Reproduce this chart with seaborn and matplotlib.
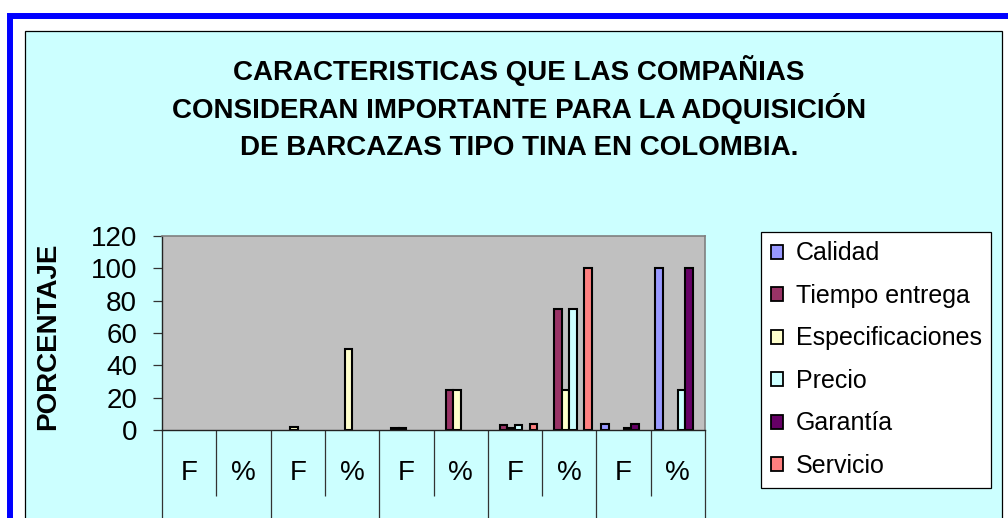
import matplotlib
matplotlib.use("Agg")
import matplotlib.pyplot as plt
from matplotlib.patches import Rectangle
import seaborn as sns
import pandas as pd
import numpy as np

# ---- data ----
cat_labels = ["F", "%", "F", "%", "F", "%", "F", "%", "F", "%"]
series = ["Calidad", "Tiempo entrega", "Especificaciones", "Precio", "Garantía", "Servicio"]
calidad = [0, 0, 0, 0, 0, 0, 0, 0, 4, 100]
tiempo_entrega = [0, 0, 0, 0, 1, 25, 3, 75, 0, 0]
especificaciones = [0, 0, 2, 50, 1, 25, 1, 25, 0, 0]
precio = [0, 0, 0, 0, 0, 0, 3, 75, 1, 25]
garantia = [0, 0, 0, 0, 0, 0, 0, 0, 4, 100]
servicio = [0, 0, 0, 0, 0, 0, 4, 100, 0, 0]
colors = ["#9999FF", "#993366", "#FFFFCC", "#CCFFFF", "#660066", "#FF8080"]
title_lines = ["CARACTERISTICAS QUE LAS COMPAÑIAS",
               "CONSIDERAN IMPORTANTE PARA LA ADQUISICIÓN",
               "DE BARCAZAS TIPO TINA EN COLOMBIA."]
y_ticks = [0, 20, 40, 60, 80, 100, 120]

cat_keys = [f"c{i}" for i in range(len(cat_labels))]
values = [calidad, tiempo_entrega, especificaciones, precio, garantia, servicio]
rows = []
for s, vals in zip(series, values):
    for k, v in zip(cat_keys, vals):
        rows.append({"cat": k, "serie": s, "valor": v})
df = pd.DataFrame(rows)
df_plot = df[df["valor"] > 0]

sns.set_style("white")
plt.rcParams["font.family"] = ["Liberation Sans", "DejaVu Sans"]
plt.rcParams["text.color"] = "black"
plt.rcParams["xtick.color"] = "black"
plt.rcParams["ytick.color"] = "black"
plt.rcParams["axes.labelcolor"] = "black"

W, H = 1008, 518
fig = plt.figure(figsize=(W / 100, H / 100), dpi=100, facecolor="white")

# frames
fig.patches.append(Rectangle((10.3 / W, -0.2), 1.3, 0.2 + 1 - 16 / H, transform=fig.transFigure,
                             facecolor="none", edgecolor="#0000FF", linewidth=4.3, zorder=-2))
fig.patches.append(Rectangle((25 / W, -0.2), (1001.5 - 25) / W, 0.2 + 1 - 30.5 / H, transform=fig.transFigure,
                             facecolor="#CCFFFF", edgecolor="black", linewidth=0.9, zorder=-1))

ax = fig.add_axes([162 / W, 1 - 430 / H, (705 - 162) / W, (430 - 236) / H])
ax.set_zorder(2)
ax.set_facecolor("#C0C0C0")

sns.barplot(data=df_plot, x="cat", y="valor", hue="serie", order=cat_keys, hue_order=series,
            palette=colors, saturation=1, width=0.83, edgecolor="black", linewidth=1.5,
            errorbar=None, ax=ax)

ax.set_xlim(-0.5, len(cat_keys) - 0.5)
ax.set_ylim(0, 120)
ax.set_yticks(y_ticks)
ax.set_yticklabels([str(t) for t in y_ticks], fontsize=20)
ax.set_xticks(range(len(cat_keys)))
ax.set_xticklabels(cat_labels, fontsize=20)
ax.tick_params(axis="x", which="major", length=0, pad=21.5)
ax.tick_params(axis="y", which="major", length=6.5, width=0.9, color="#333333", pad=11.5, direction="out", left=True)
ax.set_xticks([0.5, 2.5, 4.5, 6.5, 8.5], minor=True)
ax.tick_params(axis="x", which="minor", length=47.5, width=0.9, color="#333333", direction="out", bottom=True)
ax.vlines([-0.5, 1.5, 3.5, 5.5, 7.5, 9.5], -0.5, 0, transform=ax.get_xaxis_transform(),
          colors="#333333", linewidth=0.9, clip_on=False)
ax.set_xlabel("")
ax.set_ylabel("")
for side in ["top", "right"]:
    ax.spines[side].set_color("#808080")
    ax.spines[side].set_linewidth(1.2)
for side in ["left", "bottom"]:
    ax.spines[side].set_color("#222222")
    ax.spines[side].set_linewidth(1.0)
ax.grid(False)

# legend
handles, labels = ax.get_legend_handles_labels()
if ax.legend_ is not None:
    ax.legend_.remove()
leg = fig.legend(handles, labels, loc="upper left", bbox_to_anchor=(761 / W, 1 - 232 / H),
                 bbox_transform=fig.transFigure, fontsize=18, frameon=True, fancybox=False,
                 edgecolor="black", facecolor="white", framealpha=1, borderaxespad=0,
                 handlelength=0.5, handleheight=0.5, handletextpad=0.5, labelspacing=0.74,
                 borderpad=0.38)
leg.set_zorder(3)
leg.get_frame().set_linewidth(0.9)
for h in leg.legend_handles:
    h.set_edgecolor("black")
    h.set_linewidth(1.3)

# titles
for i, line in enumerate(title_lines):
    fig.text(519 / W, 1 - (70 + 39 * i) / H, line, ha="center", va="center",
             fontsize=20, fontweight="bold")

fig.text(48 / W, 1 - 336 / H, "PORCENTAJE", rotation=90, ha="center", va="center",
         fontsize=20, fontweight="bold")

fig.savefig("out.png", dpi=100, facecolor="white")
